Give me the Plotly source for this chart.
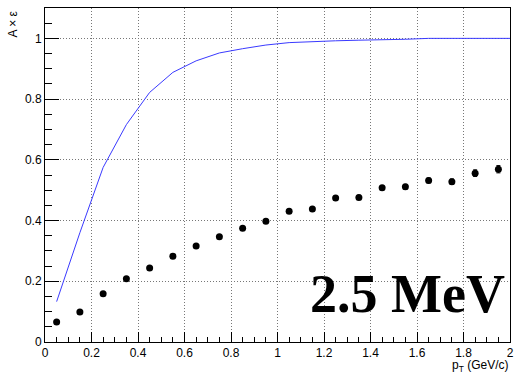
import plotly.graph_objects as go

# Data points (acceptance x efficiency)
pt_centers = [0.05, 0.15, 0.25, 0.35, 0.45, 0.55, 0.65, 0.75, 0.85, 0.95,
              1.05, 1.15, 1.25, 1.35, 1.45, 1.55, 1.65, 1.75, 1.85, 1.95]
axe_values = [0.066, 0.099, 0.159, 0.208, 0.244, 0.282, 0.316, 0.347, 0.375, 0.398,
              0.431, 0.438, 0.474, 0.476, 0.508, 0.511, 0.532, 0.528, 0.556, 0.569]
axe_errors = [0.003, 0.003, 0.004, 0.004, 0.004, 0.005, 0.005, 0.005, 0.005, 0.006,
              0.006, 0.006, 0.007, 0.007, 0.007, 0.008, 0.008, 0.009, 0.011, 0.012]

# Blue curve
curve_x = [0.05, 0.15, 0.25, 0.35, 0.45, 0.55, 0.65, 0.75, 0.85, 0.95,
           1.05, 1.15, 1.25, 1.35, 1.45, 1.55, 1.65, 1.75, 1.85, 1.95, 2.0]
curve_y = [0.133, 0.36, 0.575, 0.716, 0.822, 0.888, 0.926, 0.952, 0.966, 0.978,
           0.986, 0.990, 0.992, 0.994, 0.995, 0.997, 1.0, 1.0, 1.0, 1.0, 1.0]

label_text = "2.5 MeV"

fig = go.Figure()
fig.add_trace(go.Scatter(x=curve_x, y=curve_y, mode="lines",
                         line=dict(color="#3a3aff", width=1), showlegend=False))
fig.add_trace(go.Scatter(x=pt_centers, y=axe_values, mode="markers",
                         marker=dict(color="black", size=7, symbol="circle"),
                         error_y=dict(type="data", array=axe_errors, color="black",
                                      thickness=1, width=2),
                         showlegend=False))

axis_common = dict(
    showline=True, linecolor="black", linewidth=1, mirror=True,
    ticks="inside", tickcolor="black", tickwidth=1,
    showgrid=True, gridcolor="#777777", griddash="1px,2px", gridwidth=1,
    zeroline=False, automargin=False,
    tickfont=dict(family="Liberation Sans, Arial, sans-serif", size=12, color="black"),
)

fig.update_xaxes(range=[0, 2], dtick=0.2, tick0=0, ticklen=10,
                 tickformat="~g",
                 minor=dict(ticks="inside", dtick=0.05, ticklen=5, tickcolor="black",
                            showgrid=False),
                 **axis_common)
fig.update_yaxes(range=[0, 1.1], dtick=0.2, tick0=0, ticklen=14,
                 tickformat="~g",
                 minor=dict(ticks="inside", dtick=0.05, ticklen=7, tickcolor="black",
                            showgrid=False),
                 **axis_common)

fig.add_annotation(text=label_text, xref="paper", yref="paper", x=0.994, y=0.143,
                   xanchor="right", yanchor="middle", showarrow=False,
                   font=dict(family="Liberation Serif, Times New Roman, serif",
                             size=54, color="black", weight="bold"))
fig.add_annotation(text="p<sub>T</sub> (GeV/c)", xref="paper", yref="paper",
                   x=1.0, y=-0.072, xanchor="right", yanchor="middle", showarrow=False,
                   font=dict(family="Liberation Sans, Arial, sans-serif", size=12,
                             color="black"))
fig.add_annotation(text="A × ε", xref="paper", yref="paper",
                   x=-0.069, y=1.0, xanchor="center", yanchor="top", textangle=-90,
                   showarrow=False,
                   font=dict(family="Liberation Sans, Arial, sans-serif", size=12,
                             color="black"))

fig.update_layout(width=514, height=378,
                  margin=dict(l=45, r=4, t=8, b=36),
                  plot_bgcolor="white", paper_bgcolor="white")

fig.write_html("out.html", config={"displayModeBar": False},
               post_script="document.body.style.margin='0';document.body.style.overflow='hidden';")
